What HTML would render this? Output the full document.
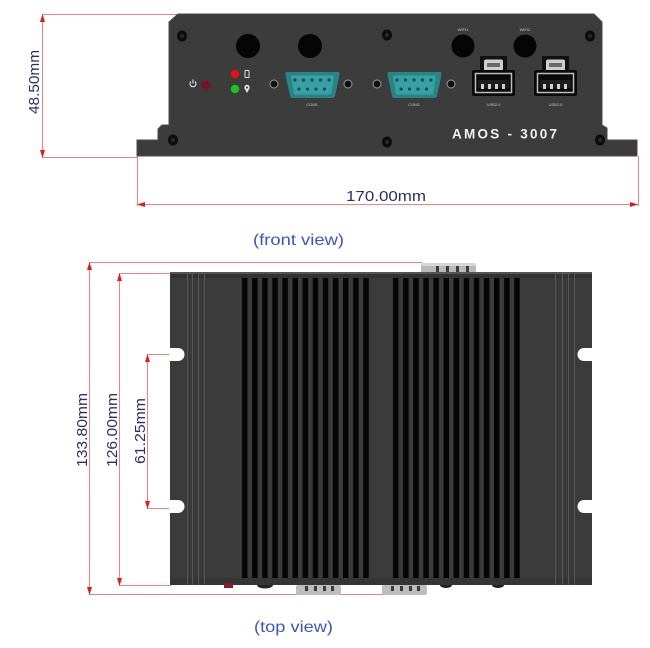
<!DOCTYPE html>
<html>
<head>
<meta charset="utf-8">
<style>
  html,body{margin:0;padding:0;background:#fff;}
  svg{display:block;}
  .dim{font-family:"Liberation Sans",sans-serif;fill:#2c2c6e;}
  .cap{font-family:"Liberation Sans",sans-serif;fill:#3b55c4;}
  .tiny{font-family:"Liberation Sans",sans-serif;fill:#c8c8c8;font-size:4px;}
</style>
</head>
<body>
<svg width="650" height="648" viewBox="0 0 650 648" xmlns="http://www.w3.org/2000/svg">
  <rect width="650" height="648" fill="#fff"/>

  <!-- ============ FRONT VIEW ============ -->
  <!-- dimension lines -->
  <g stroke="#ef8080" stroke-width="1" fill="none">
    <line x1="42" y1="14.5" x2="178" y2="14.5"/>
    <line x1="42" y1="157.5" x2="137" y2="157.5"/>
    <line x1="42.5" y1="14" x2="42.5" y2="158"/>
    <line x1="137.5" y1="156" x2="137.5" y2="206"/>
    <line x1="638.5" y1="156" x2="638.5" y2="206"/>
    <line x1="137" y1="204.5" x2="638" y2="204.5"/>
  </g>
  <g fill="#e21b1b">
    <polygon points="42.5,14 40,22 45,22"/>
    <polygon points="42.5,158 40,150 45,150"/>
    <polygon points="137,204.5 145,202 145,207"/>
    <polygon points="638,204.5 630,202 630,207"/>
  </g>
  <text class="dim" font-size="15" transform="translate(39,82) rotate(-90)" text-anchor="middle" textLength="64" lengthAdjust="spacingAndGlyphs">48.50mm</text>
  <text class="dim" x="386" y="201" font-size="15" text-anchor="middle" textLength="80" lengthAdjust="spacingAndGlyphs">170.00mm</text>

  <!-- panel body -->
  <path d="M178,14 L594,14 L602,22 L602,125 L607,128 L607,140 L637,140 L637,156 L137,156 L137,140 L158,140 L158,129 L162,125 L169,125 L169,22 Z" fill="#3c3c3c" stroke="#4a4a4a" stroke-width="1"/>

  <!-- screws -->
  <g>
    <g transform="translate(182,36)"><ellipse rx="5" ry="5.5" fill="#0c0c0c"/><circle r="2" fill="#2a2a2a"/></g>
    <g transform="translate(387,35)"><ellipse rx="5" ry="5.5" fill="#0c0c0c"/><circle r="2" fill="#2a2a2a"/></g>
    <g transform="translate(590,36)"><ellipse rx="5" ry="5.5" fill="#0c0c0c"/><circle r="2" fill="#2a2a2a"/></g>
    <g transform="translate(173,140)"><ellipse rx="5" ry="5.5" fill="#0c0c0c"/><circle r="2" fill="#2a2a2a"/></g>
    <g transform="translate(387,142)"><ellipse rx="5" ry="5.5" fill="#0c0c0c"/><circle r="2" fill="#2a2a2a"/></g>
    <g transform="translate(600,140)"><ellipse rx="5" ry="5.5" fill="#0c0c0c"/><circle r="2" fill="#2a2a2a"/></g>
  </g>

  <!-- big holes -->
  <circle cx="248" cy="46" r="12" fill="#050505"/>
  <circle cx="310" cy="46" r="12" fill="#050505"/>
  <circle cx="463" cy="46" r="11.5" fill="#050505"/>
  <circle cx="525" cy="46" r="11.5" fill="#050505"/>
  <text class="tiny" x="463" y="31" text-anchor="middle">WIFI1</text>
  <text class="tiny" x="525" y="31" text-anchor="middle">WIFI2</text>

  <!-- power / LEDs -->
  <path d="M191,81.5 A3,3 0 1 0 195,81.5" fill="none" stroke="#e0e0e0" stroke-width="1.1"/>
  <line x1="193" y1="79.5" x2="193" y2="83.5" stroke="#e0e0e0" stroke-width="1.1"/>
  <circle cx="206" cy="85" r="4.5" fill="#7a1226"/>
  <circle cx="235" cy="74" r="4.2" fill="#e81010"/>
  <circle cx="235" cy="89" r="4.2" fill="#18c818"/>
  <rect x="245" y="70.5" width="4" height="7" rx="0.8" fill="none" stroke="#e0e0e0" stroke-width="1"/>
  <path d="M247,93 L244.5,88.5 A2.7,2.7 0 1 1 249.5,88.5 Z" fill="#e0e0e0"/>
  <circle cx="247" cy="87.5" r="1" fill="#3c3c3c"/>

  <!-- COM1 -->
  <g>
    <g transform="translate(274,84)"><circle r="4" fill="#111" stroke="#9a9a9a" stroke-width="1"/></g>
    <g transform="translate(348,84)"><circle r="4" fill="#111" stroke="#9a9a9a" stroke-width="1"/></g>
    <path d="M287,72 L338,72 Q340,72 339.5,75 L335,96 Q334.5,98 332,98 L293,98 Q290.5,98 290,96 L285.5,75 Q285,72 287,72 Z" fill="#2a8486"/>
    <path d="M291,75.5 L334,75.5 L331,94.5 L294,94.5 Z" fill="#36a0a2"/>
    <g fill="#0f3f40">
      <circle cx="295" cy="80" r="1.5"/><circle cx="303.5" cy="80" r="1.5"/><circle cx="312" cy="80" r="1.5"/><circle cx="320.5" cy="80" r="1.5"/><circle cx="329" cy="80" r="1.5"/>
      <circle cx="299" cy="89" r="1.5"/><circle cx="307.5" cy="89" r="1.5"/><circle cx="316" cy="89" r="1.5"/><circle cx="324.5" cy="89" r="1.5"/>
    </g>
    <text class="tiny" x="312" y="106" text-anchor="middle">COM1</text>
  </g>
  <!-- COM2 -->
  <g transform="translate(102,0)">
    <g transform="translate(275,84)"><circle r="4" fill="#111" stroke="#9a9a9a" stroke-width="1"/></g>
    <g transform="translate(349,84)"><circle r="4" fill="#111" stroke="#9a9a9a" stroke-width="1"/></g>
    <path d="M287,72 L338,72 Q340,72 339.5,75 L335,96 Q334.5,98 332,98 L293,98 Q290.5,98 290,96 L285.5,75 Q285,72 287,72 Z" fill="#2a8486"/>
    <path d="M291,75.5 L334,75.5 L331,94.5 L294,94.5 Z" fill="#36a0a2"/>
    <g fill="#0f3f40">
      <circle cx="295" cy="80" r="1.5"/><circle cx="303.5" cy="80" r="1.5"/><circle cx="312" cy="80" r="1.5"/><circle cx="320.5" cy="80" r="1.5"/><circle cx="329" cy="80" r="1.5"/>
      <circle cx="299" cy="89" r="1.5"/><circle cx="307.5" cy="89" r="1.5"/><circle cx="316" cy="89" r="1.5"/><circle cx="324.5" cy="89" r="1.5"/>
    </g>
    <text class="tiny" x="312" y="106" text-anchor="middle">COM2</text>
  </g>

  <!-- USB ports -->
  <g id="usb1">
    <rect x="480" y="56" width="27" height="16" fill="#111"/>
    <rect x="484" y="59.5" width="19" height="12" rx="2" fill="#cfcfcf"/>
    <rect x="487" y="63" width="13" height="4" fill="#6a6a6a"/>
    <rect x="472" y="70" width="43" height="26" rx="2" fill="#0a0a0a"/>
    <rect x="475.5" y="73.5" width="36" height="19" fill="none" stroke="#bdbdbd" stroke-width="1.5"/>
    <rect x="478" y="80" width="31" height="8" fill="#1d1d1d"/>
    <g fill="#cfcfcf"><rect x="481" y="84" width="3" height="5"/><rect x="488" y="84" width="3" height="5"/><rect x="495" y="84" width="3" height="5"/><rect x="502" y="84" width="3" height="5"/></g>
    <text class="tiny" x="493.5" y="106" text-anchor="middle">USB2.0</text>
  </g>
  <g transform="translate(62,0)">
    <rect x="480" y="56" width="27" height="16" fill="#111"/>
    <rect x="484" y="59.5" width="19" height="12" rx="2" fill="#cfcfcf"/>
    <rect x="487" y="63" width="13" height="4" fill="#6a6a6a"/>
    <rect x="472" y="70" width="43" height="26" rx="2" fill="#0a0a0a"/>
    <rect x="475.5" y="73.5" width="36" height="19" fill="none" stroke="#bdbdbd" stroke-width="1.5"/>
    <rect x="478" y="80" width="31" height="8" fill="#1d1d1d"/>
    <g fill="#cfcfcf"><rect x="481" y="84" width="3" height="5"/><rect x="488" y="84" width="3" height="5"/><rect x="495" y="84" width="3" height="5"/><rect x="502" y="84" width="3" height="5"/></g>
    <text class="tiny" x="493.5" y="106" text-anchor="middle">USB2.0</text>
  </g>

  <text x="504.5" y="138.5" font-family="Liberation Sans, sans-serif" font-weight="bold" font-size="13.5" fill="#f2f2f2" text-anchor="middle" textLength="105" lengthAdjust="spacing">AMOS - 3007</text>

  <text class="cap" x="298.5" y="245" font-size="16" text-anchor="middle" textLength="91" lengthAdjust="spacingAndGlyphs">(front view)</text>

  <!-- ============ TOP VIEW ============ -->
  <g stroke="#ef8080" stroke-width="1" fill="none">
    <line x1="89" y1="262.5" x2="422" y2="262.5"/>
    <line x1="89" y1="594.5" x2="384" y2="594.5"/>
    <line x1="89.5" y1="262" x2="89.5" y2="595"/>
    <line x1="119" y1="273.5" x2="171" y2="273.5"/>
    <line x1="119" y1="585.5" x2="171" y2="585.5"/>
    <line x1="119.5" y1="273" x2="119.5" y2="586"/>
    <line x1="147" y1="354.5" x2="172" y2="354.5"/>
    <line x1="147" y1="508.5" x2="172" y2="508.5"/>
    <line x1="147.5" y1="354" x2="147.5" y2="509"/>
  </g>
  <g fill="#e21b1b">
    <polygon points="89.5,262 87,270 92,270"/>
    <polygon points="89.5,595 87,587 92,587"/>
    <polygon points="119.5,273 117,281 122,281"/>
    <polygon points="119.5,586 117,578 122,578"/>
    <polygon points="147.5,354 145,362 150,362"/>
    <polygon points="147.5,509 145,501 150,501"/>
  </g>
  <text class="dim" font-size="15" transform="translate(87,430) rotate(-90)" text-anchor="middle" textLength="74" lengthAdjust="spacingAndGlyphs">133.80mm</text>
  <text class="dim" font-size="15" transform="translate(117,430) rotate(-90)" text-anchor="middle" textLength="74" lengthAdjust="spacingAndGlyphs">126.00mm</text>
  <text class="dim" font-size="15" transform="translate(145,431) rotate(-90)" text-anchor="middle" textLength="66" lengthAdjust="spacingAndGlyphs">61.25mm</text>

  <!-- top connector -->
  <rect x="421" y="263" width="55" height="11" rx="3" fill="#b9b9b9"/>
  <rect x="421" y="263" width="55" height="3" rx="1.5" fill="#d6d6d6"/>
  <g fill="#3a3a3a"><rect x="436" y="266" width="3" height="6"/><rect x="446" y="266" width="3" height="6"/><rect x="456" y="266" width="3" height="6"/><rect x="466" y="266" width="3" height="6"/></g>

  <!-- body -->
  <rect x="170" y="272" width="422" height="313" fill="#3b3b3b"/>
  <rect x="170" y="272" width="422" height="2" fill="#555"/>
  <rect x="170" y="274" width="422" height="4" fill="#333"/>
  <rect x="170" y="578" width="422" height="7" fill="#353535"/>
  <g stroke="#585858" stroke-width="1">
    <line x1="187.5" y1="272" x2="187.5" y2="585"/>
    <line x1="192.5" y1="272" x2="192.5" y2="585"/>
    <line x1="198.5" y1="272" x2="198.5" y2="585"/>
    <line x1="204.5" y1="272" x2="204.5" y2="585"/>
    <line x1="555.5" y1="272" x2="555.5" y2="585"/>
    <line x1="562.5" y1="272" x2="562.5" y2="585"/>
    <line x1="568.5" y1="272" x2="568.5" y2="585"/>
    <line x1="574.5" y1="272" x2="574.5" y2="585"/>
  </g>
  <!-- fins -->
  <g fill="#050505">
    <rect x="242" y="278" width="5.5" height="300"/>
    <rect x="252.1" y="278" width="5.5" height="300"/>
    <rect x="262.2" y="278" width="5.5" height="300"/>
    <rect x="272.3" y="278" width="5.5" height="300"/>
    <rect x="282.4" y="278" width="5.5" height="300"/>
    <rect x="292.5" y="278" width="5.5" height="300"/>
    <rect x="302.6" y="278" width="5.5" height="300"/>
    <rect x="312.7" y="278" width="5.5" height="300"/>
    <rect x="322.8" y="278" width="5.5" height="300"/>
    <rect x="332.9" y="278" width="5.5" height="300"/>
    <rect x="343" y="278" width="5.5" height="300"/>
    <rect x="353.1" y="278" width="5.5" height="300"/>
    <rect x="363.2" y="278" width="5.5" height="300"/>
    <rect x="393" y="278" width="5.5" height="300"/>
    <rect x="403.1" y="278" width="5.5" height="300"/>
    <rect x="413.2" y="278" width="5.5" height="300"/>
    <rect x="423.3" y="278" width="5.5" height="300"/>
    <rect x="433.4" y="278" width="5.5" height="300"/>
    <rect x="443.5" y="278" width="5.5" height="300"/>
    <rect x="453.6" y="278" width="5.5" height="300"/>
    <rect x="463.7" y="278" width="5.5" height="300"/>
    <rect x="473.8" y="278" width="5.5" height="300"/>
    <rect x="483.9" y="278" width="5.5" height="300"/>
    <rect x="494" y="278" width="5.5" height="300"/>
    <rect x="504.1" y="278" width="5.5" height="300"/>
    <rect x="514.2" y="278" width="5.5" height="300"/>
  </g>
  <!-- slots -->
  <g fill="#fff">
    <path d="M169,348 L178,348 A6.5,6.5 0 0 1 178,361 L169,361 Z"/>
    <path d="M169,500 L178,500 A6.5,6.5 0 0 1 178,513 L169,513 Z"/>
    <path d="M593,348 L584,348 A6.5,6.5 0 0 0 584,361 L593,361 Z"/>
    <path d="M593,500 L584,500 A6.5,6.5 0 0 0 584,513 L593,513 Z"/>
  </g>

  <!-- bottom details -->
  <rect x="224" y="583" width="9" height="5" fill="#8b1a2a"/>
  <path d="M257,585 A8,3.5 0 0 0 273,585 Z" fill="#222"/>
  <path d="M440,585 A6,3 0 0 0 452,585 Z" fill="#222"/>
  <path d="M492,585 A6,3 0 0 0 504,585 Z" fill="#222"/>
  <g>
    <rect x="296" y="585" width="45" height="10" rx="2" fill="#bdbdbd"/>
    <g fill="#3a3a3a"><rect x="305" y="586" width="3" height="5"/><rect x="314" y="586" width="3" height="5"/><rect x="323" y="586" width="3" height="5"/><rect x="331" y="586" width="3" height="5"/></g>
    <rect x="382" y="585" width="45" height="10" rx="2" fill="#bdbdbd"/>
    <g fill="#3a3a3a"><rect x="391" y="586" width="3" height="5"/><rect x="400" y="586" width="3" height="5"/><rect x="409" y="586" width="3" height="5"/><rect x="417" y="586" width="3" height="5"/></g>
  </g>

  <text class="cap" x="293.5" y="632" font-size="16" text-anchor="middle" textLength="79" lengthAdjust="spacingAndGlyphs">(top view)</text>
</svg>
</body>
</html>
